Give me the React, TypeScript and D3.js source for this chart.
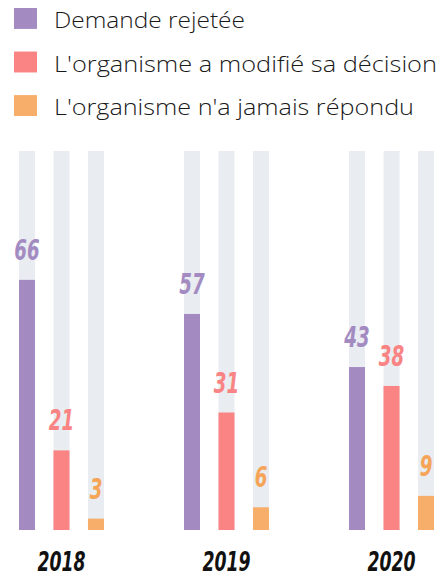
import React from 'react';
import * as d3 from 'd3';

const years = ['2018', '2019', '2020'];
const seriesNames = ['Demande rejetée', "L'organisme a modifié sa décision", "L'organisme n'a jamais répondu"];
const rejected = [66, 57, 43];
const modified = [21, 31, 38];
const noAnswer = [3, 6, 9];

const colors = ['#a38bc2', '#fa8383', '#f7ae6b'];
const labelColors = ['#a38bc2', '#fa8383', '#f5a458'];
// measured widths of legend labels in the reference
const legendWidths = [191, 383, 360];

const W = 444;
const H = 577;

const numFont = "'DejaVu Sans', sans-serif";

const NumText: React.FC<{ x: number; y: number; size: number; fill: string; children: React.ReactNode }> = ({
  x,
  y,
  size,
  fill,
  children,
}) => (
  <text
    transform={`translate(${x},${y}) scale(0.64,1)`}
    textAnchor="middle"
    fontFamily={numFont}
    fontWeight="bold"
    fontStyle="italic"
    fontSize={size}
    fill={fill}
  >
    {children}
  </text>
);

const App: React.FC = () => {
  const values = [rejected, modified, noAnswer];

  const x0 = d3.scaleBand<string>().domain(years).range([19, 434]).paddingInner(0.485).paddingOuter(0);
  const x1 = d3
    .scaleBand<number>()
    .domain([0, 1, 2])
    .range([0, x0.bandwidth()])
    .paddingInner(0.536)
    .paddingOuter(0);
  const y = d3.scaleLinear().domain([0, 100]).range([530, 151]);

  const legendY = d3.scaleBand<number>().domain([0, 1, 2]).range([8, 116]).paddingInner(0.52);

  return (
    <svg width={W} height={H} style={{ position: 'absolute', left: 0, top: 0, background: '#fff' }}>
      <g>
        {seriesNames.map((name, i) => (
          <g key={name} transform={`translate(0,${legendY(i)})`}>
            <rect x={14} y={0} width={23} height={legendY.bandwidth()} fill={colors[i]} />
            <text
              x={54}
              y={legendY.bandwidth() / 2 + 9.5}
              fontFamily="'Open Sans', sans-serif"
              fontWeight={300}
              fontSize={22.5}
              fill="#1a1a1a"
              textLength={legendWidths[i]}
              lengthAdjust="spacingAndGlyphs"
            >
              {name}
            </text>
          </g>
        ))}
      </g>
      {years.map((yr, gi) => (
        <g key={yr} transform={`translate(${x0(yr)},0)`}>
          {values.map((vals, si) => {
            const bx = x1(si) ?? 0;
            const v = vals[gi];
            return (
              <g key={si}>
                <rect x={bx} y={y(100)} width={x1.bandwidth()} height={y(0) - y(100)} fill="#e9ecf0" />
                <rect x={bx} y={y(v)} width={x1.bandwidth()} height={y(0) - y(v)} fill={colors[si]} />
                <NumText x={bx + x1.bandwidth() / 2} y={y(v) - 20} size={28.5} fill={labelColors[si]}>
                  {v}
                </NumText>
              </g>
            );
          })}
          <NumText x={x0.bandwidth() / 2} y={571} size={27} fill="#111">
            {yr}
          </NumText>
        </g>
      ))}
    </svg>
  );
};

export default App;
